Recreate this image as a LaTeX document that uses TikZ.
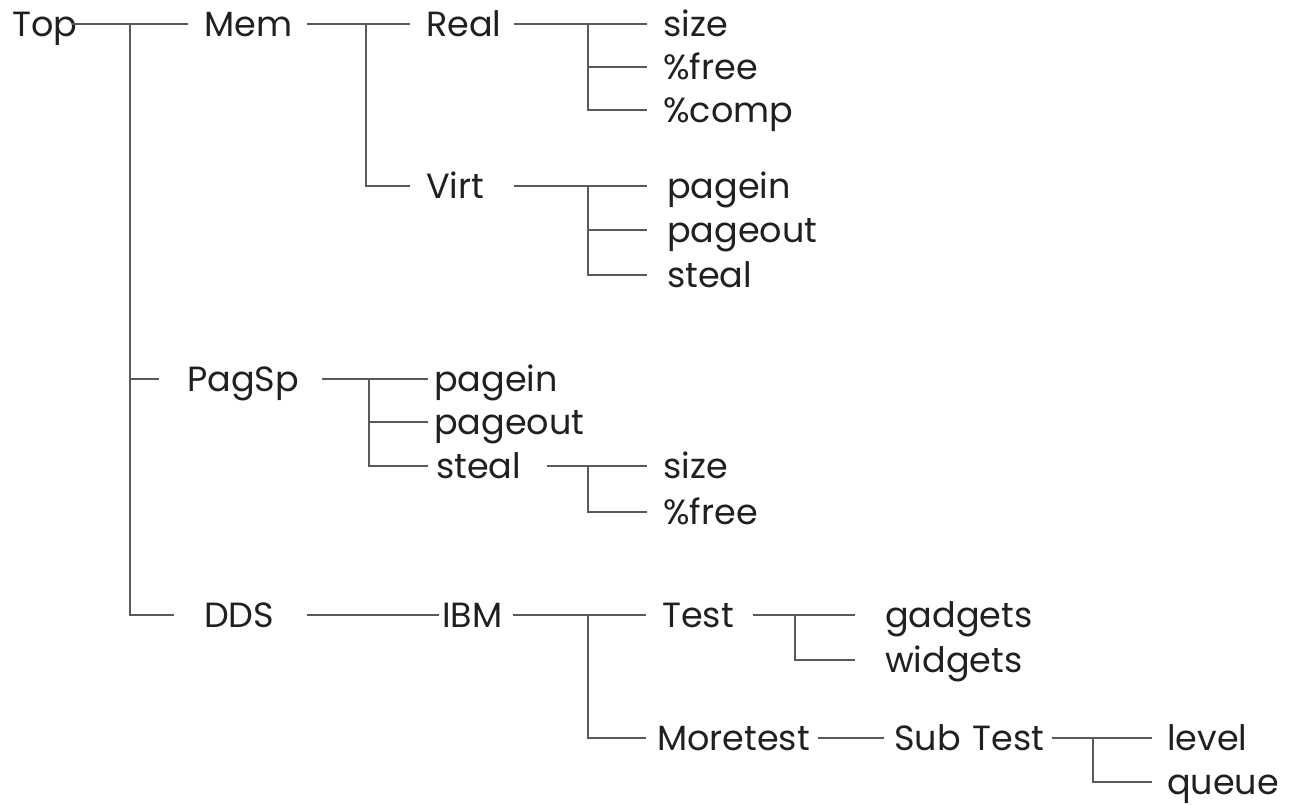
\documentclass[tikz,border=0pt]{standalone}
\usepackage{fontspec}
\setmainfont{Poppins}
\usetikzlibrary{positioning}
\definecolor{ink}{HTML}{231F20}
\definecolor{wire}{HTML}{5A5A5A}

\begin{document}
\begin{tikzpicture}[
  x=1pt, y=-1pt,
  font=\fontsize{35}{38}\selectfont,
  lbl/.style={anchor=west, inner xsep=16pt, inner ysep=0pt, text height=24.5pt, text depth=0pt, text=ink, align=left},
  link/.style={draw=wire, line width=1.2pt}
]
\useasboundingbox (0,0) rectangle (1294,805);

% first level
\node[lbl, inner xsep=0pt, text width=60pt] (top) at (12,24) {Top};
\node[lbl, text width=87pt] (mem) at (188,24) {Mem};
\node[lbl, inner xsep=28pt, text width=107pt] (pagsp) at (159,379) {PagSp};
\node[lbl, inner xsep=30pt, text width=73pt] (dds) at (174,615) {DDS};

% Mem
\node[lbl, text width=72pt] (real) at (410,24) {Real};
\node[lbl, text width=72pt] (virt) at (410,186) {Virt};
\node[lbl] (rsize) at (647,24) {size};
\node[lbl] (rfree) at (647,67) {\%free};
\node[lbl] (rcomp) at (647,110) {\%comp};
\node[lbl, inner xsep=20pt] (vin) at (647,186) {pagein};
\node[lbl, inner xsep=20pt] (vout) at (647,230) {pageout};
\node[lbl, inner xsep=20pt] (vsteal) at (647,275) {steal};

% PagSp
\node[lbl, inner xsep=6pt] (pin) at (428,379) {pagein};
\node[lbl, inner xsep=6pt] (pout) at (428,422) {pageout};
\node[lbl, inner xsep=8pt, text width=103pt] (psteal) at (428,466) {steal};
\node[lbl] (psize) at (647,466) {size};
\node[lbl] (pfree) at (647,512) {\%free};

% DDS
\node[lbl, inner xsep=3pt, text width=68pt] (ibm) at (439,615) {IBM};
\node[lbl, text width=75pt] (test) at (646,615) {Test};
\node[lbl, inner xsep=11pt, text width=150pt] (moretest) at (646,738) {Moretest};
\node[lbl, inner xsep=30pt] (gadgets) at (855,615) {gadgets};
\node[lbl, inner xsep=30pt] (widgets) at (855,660) {widgets};
\node[lbl, inner xsep=10pt, text width=148pt] (subtest) at (884,738) {Sub~Test};
\node[lbl, inner xsep=15pt] (level) at (1152,738) {level};
\node[lbl, inner xsep=15pt] (queue) at (1152,782) {queue};

% forks
\coordinate (ftop) at (130,24);
\coordinate (fmem) at (366,24);
\coordinate (freal) at (588,24);
\coordinate (fvirt) at (588,186);
\coordinate (fpagsp) at (369,379);
\coordinate (fsteal) at (588,466);
\coordinate (fibm) at (588,615);
\coordinate (ftest) at (795,615);
\coordinate (fsub) at (1093,738);

\draw[link] (top) -- (mem);
\draw[link] (ftop) |- (pagsp);
\draw[link] (ftop) |- (dds);
\draw[link] (mem) -- (real);
\draw[link] (fmem) |- (virt);
\draw[link] (real) -- (rsize);
\draw[link] (freal) |- (rfree);
\draw[link] (freal) |- (rcomp);
\draw[link] (virt) -- (vin);
\draw[link] (fvirt) |- (vout);
\draw[link] (fvirt) |- (vsteal);
\draw[link] (pagsp) -- (pin);
\draw[link] (fpagsp) |- (pout);
\draw[link] (fpagsp) |- (psteal);
\draw[link] (psteal) -- (psize);
\draw[link] (fsteal) |- (pfree);
\draw[link] (dds) -- (ibm);
\draw[link] (ibm) -- (test);
\draw[link] (fibm) |- (moretest);
\draw[link] (test) -- (gadgets);
\draw[link] (ftest) |- (widgets);
\draw[link] (moretest) -- (subtest);
\draw[link] (subtest) -- (level);
\draw[link] (fsub) |- (queue);
\end{tikzpicture}
\end{document}
